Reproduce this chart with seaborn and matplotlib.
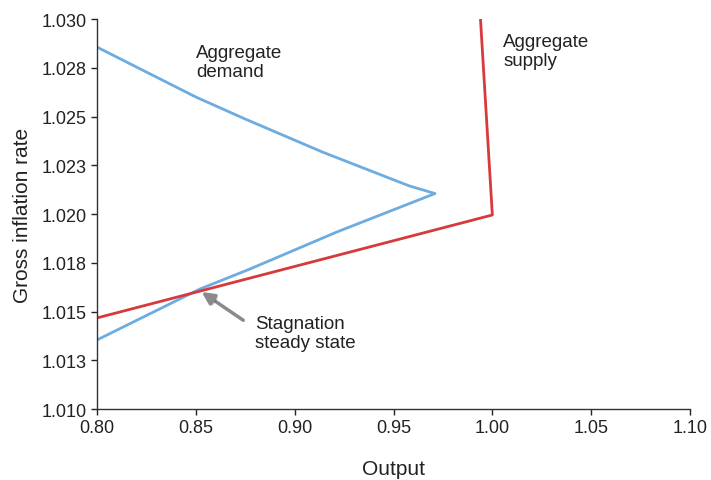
import numpy as np
import pandas as pd
import matplotlib
matplotlib.use("Agg")
import matplotlib.pyplot as plt
import seaborn as sns
import matplotlib.patheffects as pe

# aggregate demand curve (output, gross inflation)
ad_output = [0.800, 0.850, 0.875, 0.914, 0.958, 0.971, 0.9214, 0.8774, 0.852, 0.800]
ad_inflation = [1.02856, 1.02600, 1.02487, 1.02318, 1.02144, 1.02105, 1.01908, 1.01718, 1.01615, 1.01354]

# aggregate supply curve
as_output = [0.994, 1.000, 0.800]
as_inflation = [1.0300, 1.01995, 1.01467]

x_ticks = [0.80, 0.85, 0.90, 0.95, 1.00, 1.05, 1.10]
y_ticks = [1.010, 1.0125, 1.015, 1.0175, 1.020, 1.0225, 1.025, 1.0275, 1.030]
y_tick_labels = ["1.010", "1.013", "1.015", "1.018", "1.020", "1.023", "1.025", "1.028", "1.030"]

ad = pd.DataFrame({"output": ad_output, "inflation": ad_inflation})
asupply = pd.DataFrame({"output": as_output, "inflation": as_inflation})

sns.set_style("ticks")
plt.rcParams["font.family"] = ["Liberation Sans", "DejaVu Sans"]

fig = plt.figure(figsize=(7.11, 4.81), dpi=100)
ax = fig.add_axes([0.1364, 0.1476, 0.8341, 0.8108])

sns.lineplot(data=ad, x="output", y="inflation", sort=False, estimator=None,
             color="#6cace0", lw=2, ax=ax)
sns.lineplot(data=asupply, x="output", y="inflation", sort=False, estimator=None,
             color="#d7393c", lw=2, ax=ax)

ax.set_xlim(0.80, 1.10)
ax.set_ylim(1.010, 1.030)
ax.set_xticks(x_ticks, [f"{v:.2f}" for v in x_ticks])
ax.set_yticks(y_ticks, y_tick_labels)
ax.tick_params(labelsize=13, length=4, width=1, colors="#222222", direction="out")
for s in ["left", "bottom"]:
    ax.spines[s].set_color("#333333")
    ax.spines[s].set_linewidth(1)
sns.despine(ax=ax)

ax.set_xlabel("Output", fontsize=15, labelpad=16, color="#222222")
ax.set_ylabel("Gross inflation rate", fontsize=15, labelpad=7, color="#222222")

ax.text(0.850, 1.0287, "Aggregate\ndemand", fontsize=13.5, va="top", ha="left",
        color="#222222", linespacing=1.15)
ax.text(1.0055, 1.0293, "Aggregate\nsupply", fontsize=13.5, va="top", ha="left",
        color="#222222", linespacing=1.15)
ax.text(0.880, 1.0148, "Stagnation\nsteady state", fontsize=13.5, va="top", ha="left",
        color="#222222", linespacing=1.15)
ax.annotate("", xy=(0.853, 1.0160), xytext=(0.874, 1.01455),
            arrowprops=dict(arrowstyle="-|>", color="#8a8a8a", lw=2.5, mutation_scale=18,
                            shrinkA=0, shrinkB=0,
                            path_effects=[pe.SimplePatchShadow(offset=(1.5, -1.5), alpha=0.25),
                                          pe.Normal()]))

fig.savefig("out.png", dpi=100)
